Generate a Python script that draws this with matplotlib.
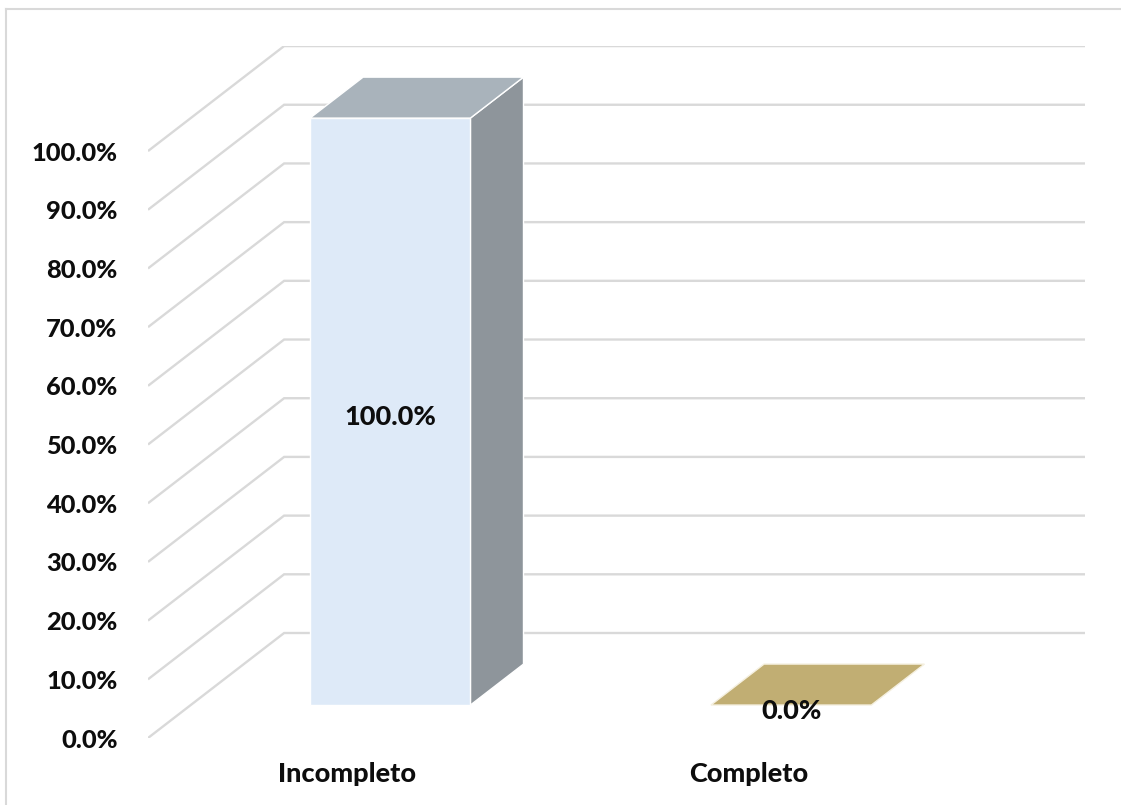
import matplotlib
matplotlib.use('Agg')
from matplotlib import pyplot as plt
from matplotlib.lines import Line2D
from matplotlib.patches import Polygon

categorias = ['Incompleto', 'Completo']
valores = [100.0, 0.0]
ticks_y = [0, 10, 20, 30, 40, 50, 60, 70, 80, 90, 100]

LARGURA, ALTURA = 1121, 805
COR_GRADE = '#d9d9d9'
COR_TEXTO = '#0d0d0d'
cores_frente = ['#deeaf8', '#c1ae73']
cores_topo = ['#a9b3bb', '#c1ae73']
cores_lado = ['#8e959b', '#c1ae73']

plt.rcParams['font.family'] = ['Lato', 'DejaVu Sans']

fig = plt.figure(figsize=(LARGURA / 100, ALTURA / 100), dpi=100)
fig.patch.set_facecolor('white')

# eixo no plano frontal do grafico 3D
X_INI, X_FIM = -0.4975, 1.8395
ax = fig.add_axes([148 / LARGURA, 1 - 738 / ALTURA, 937 / LARGURA, 692 / ALTURA])
ax.set_xlim(X_INI, X_FIM)
ax.set_ylim(0, 117.9)
ax.patch.set_alpha(0)
for lado in ax.spines.values():
    lado.set_visible(False)

# deslocamento de profundidade em unidades dos dados
PROF_X = 0.3395
PROF_Y = 17.89
BARRA_INI = 0.314
BARRA_FIM = 0.704
MEIA_LARGURA = 0.2


def proj(x, y, d):
    return (x + d * PROF_X, y + d * PROF_Y)


# grade: linha inclinada na parede lateral + linha na parede do fundo
for t in ticks_y:
    a = proj(X_INI, t, 0)
    b = proj(X_INI, t, 1)
    c = proj(X_FIM - PROF_X, t, 1)
    ax.plot([a[0], b[0], c[0]], [a[1], b[1], c[1]], color=COR_GRADE, lw=1.7,
            zorder=1, solid_joinstyle='miter', solid_capstyle='butt')

# barras
for i, v in enumerate(valores):
    x0, x1 = i - MEIA_LARGURA, i + MEIA_LARGURA
    frente = [proj(x0, 0, BARRA_INI), proj(x1, 0, BARRA_INI),
              proj(x1, v, BARRA_INI), proj(x0, v, BARRA_INI)]
    topo = [proj(x0, v, BARRA_INI), proj(x1, v, BARRA_INI),
            proj(x1, v, BARRA_FIM), proj(x0, v, BARRA_FIM)]
    lado = [proj(x1, 0, BARRA_INI), proj(x1, 0, BARRA_FIM),
            proj(x1, v, BARRA_FIM), proj(x1, v, BARRA_INI)]
    if v > 0:
        ax.add_patch(Polygon(lado, facecolor=cores_lado[i], edgecolor='white', lw=1, zorder=2))
        ax.add_patch(Polygon(frente, facecolor=cores_frente[i], edgecolor='white', lw=1, zorder=3))
    ax.add_patch(Polygon(topo, facecolor=cores_topo[i], edgecolor='#f5f0e0' if v == 0 else 'white',
                         lw=1, zorder=3))
    # rotulo de dados
    px, py = proj(i, v / 2, BARRA_INI)
    ax.annotate(f'{v:.1f}%', (px, py), xytext=(0, -4), textcoords='offset points',
                ha='center', va='center', fontsize=19.5, fontweight='black', color=COR_TEXTO, zorder=5)

ax.set_yticks(ticks_y)
ax.set_yticklabels([f'{t:.1f}%' for t in ticks_y], fontsize=18.3, fontweight='black', color=COR_TEXTO)
ax.set_xticks(range(len(categorias)))
ax.set_xticklabels(categorias, fontsize=19.5, fontweight='black', color=COR_TEXTO)
ax.tick_params(axis='y', length=0, pad=22)
ax.tick_params(axis='x', length=0, pad=17)

# moldura da area do grafico (cortada na direita e embaixo)
fig.add_artist(Line2D([6 / LARGURA, 1], [1 - 9 / ALTURA, 1 - 9 / ALTURA], color=COR_GRADE, lw=1.5))
fig.add_artist(Line2D([6 / LARGURA, 6 / LARGURA], [0, 1 - 9 / ALTURA], color=COR_GRADE, lw=1.5))

fig.savefig('out.png', dpi=100)
